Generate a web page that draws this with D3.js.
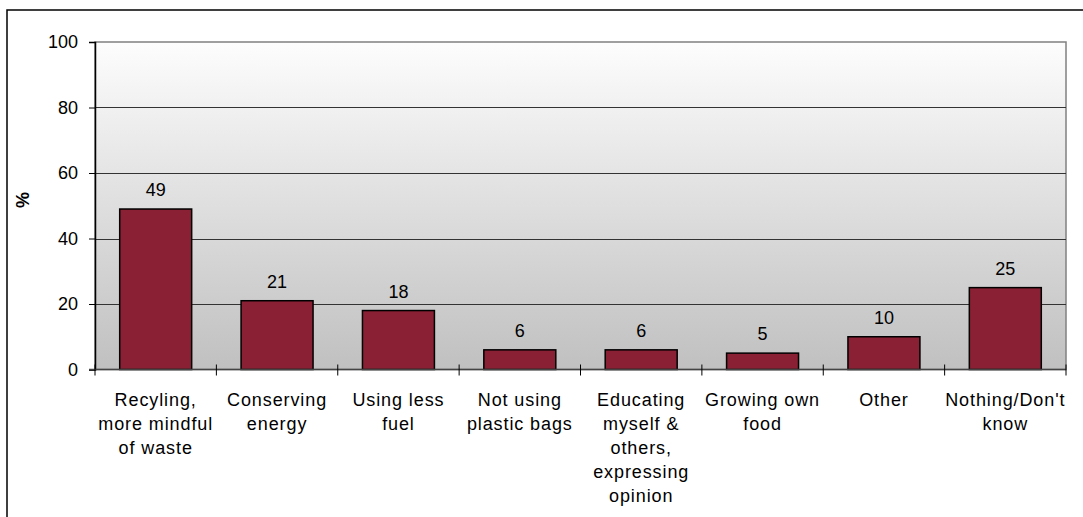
<!DOCTYPE html>
<html>
<head>
<meta charset="utf-8">
<script src="https://cdn.jsdelivr.net/npm/d3@7"></script>
<style>
  html, body { margin: 0; padding: 0; background: #ffffff; }
  svg { display: block; }
  text { font-family: "Liberation Sans", Arial, sans-serif; }
</style>
</head>
<body>
<svg id="chart" width="1083" height="517"></svg>
<script>
const categories = [
  ["Recyling,", "more mindful", "of waste"],
  ["Conserving", "energy"],
  ["Using less", "fuel"],
  ["Not using", "plastic bags"],
  ["Educating", "myself &", "others,", "expressing", "opinion"],
  ["Growing own", "food"],
  ["Other"],
  ["Nothing/Don't", "know"]
];
const values = [49, 21, 18, 6, 6, 5, 10, 25];
const yTicks = [0, 20, 40, 60, 80, 100];
const yLabel = "%";

const svg = d3.select("#chart");
const plot = { left: 95, right: 1066, top: 42, bottom: 369.5 };

// outer frame
svg.append("rect")
  .attr("x", 7).attr("y", 10).attr("width", 1090).attr("height", 540)
  .attr("fill", "none").attr("stroke", "#000").attr("stroke-width", 1.5);

const keys = categories.map((c, i) => "c" + i);
const x = d3.scaleBand().domain(keys).range([plot.left, plot.right])
  .paddingInner(0.407).paddingOuter(0.2035);
const y = d3.scaleLinear().domain([0, 100]).range([plot.bottom, plot.top]);

// gradient background
const defs = svg.append("defs");
const grad = defs.append("linearGradient").attr("id", "bg")
  .attr("x1", 0).attr("y1", 0).attr("x2", 0).attr("y2", 1);
grad.append("stop").attr("offset", "0%").attr("stop-color", "#fdfdfd");
grad.append("stop").attr("offset", "100%").attr("stop-color", "#c0c0c0");

svg.append("rect")
  .attr("x", plot.left).attr("y", plot.top)
  .attr("width", plot.right - plot.left).attr("height", plot.bottom - plot.top)
  .attr("fill", "url(#bg)").attr("stroke", "#808080").attr("stroke-width", 1.5);

// gridlines
svg.append("g").selectAll("line").data(yTicks.filter(t => t > 0 && t < 100)).join("line")
  .attr("x1", plot.left).attr("x2", plot.right)
  .attr("y1", d => Math.round(y(d)) + 0.5).attr("y2", d => Math.round(y(d)) + 0.5)
  .attr("stroke", "#333").attr("stroke-width", 1);

// bars
svg.append("g").selectAll("rect").data(values).join("rect")
  .attr("x", (d, i) => x(keys[i]))
  .attr("y", d => y(d))
  .attr("width", x.bandwidth())
  .attr("height", d => y(0) - y(d))
  .attr("fill", "#8a2033")
  .attr("stroke", "#000").attr("stroke-width", 1.5);

// value labels
svg.append("g").selectAll("text").data(values).join("text")
  .attr("x", (d, i) => x(keys[i]) + x.bandwidth() / 2)
  .attr("y", d => y(d) - 13)
  .attr("text-anchor", "middle")
  .attr("font-size", "18px")
  .attr("fill", "#000")
  .text(d => d);

// y axis
const yAxis = d3.axisLeft(y).tickValues(yTicks).tickSize(6).tickPadding(11);
const gy = svg.append("g").attr("transform", `translate(${plot.left},0)`).call(yAxis);
gy.select(".domain").attr("stroke", "#000").attr("stroke-width", 1.5);
gy.selectAll(".tick line").attr("stroke", "#000");
gy.selectAll(".tick text").attr("font-size", "18px").attr("font-family", "Liberation Sans, Arial, sans-serif").attr("fill", "#000");

// x axis (tick marks at band boundaries)
svg.append("line")
  .attr("x1", plot.left - 6).attr("x2", plot.right)
  .attr("y1", y(0)).attr("y2", y(0))
  .attr("stroke", "#444").attr("stroke-width", 1.5);
const boundaries = keys.map(k => x(k) - x.step() * x.paddingInner() / 2).concat([plot.right]);
svg.append("g").selectAll("line").data(boundaries).join("line")
  .attr("x1", d => d).attr("x2", d => d)
  .attr("y1", y(0) - 5).attr("y2", y(0) + 6)
  .attr("stroke", "#000").attr("stroke-width", 1);

// category labels
const lab = svg.append("g").selectAll("text").data(categories).join("text")
  .attr("x", (d, i) => x(keys[i]) + x.bandwidth() / 2)
  .attr("y", 406)
  .attr("text-anchor", "middle")
  .attr("font-size", "18px")
  .attr("letter-spacing", "0.9px")
  .attr("fill", "#000");
lab.selectAll("tspan").data(d => d).join("tspan")
  .attr("x", function () { return d3.select(this.parentNode).attr("x"); })
  .attr("dy", (d, j) => j === 0 ? 0 : 24)
  .text(d => d);

// y label
svg.append("text")
  .attr("transform", "translate(29,200) rotate(-90)")
  .attr("text-anchor", "middle")
  .attr("font-size", "18px")
  .attr("font-weight", "bold")
  .text(yLabel);
</script>
</body>
</html>
